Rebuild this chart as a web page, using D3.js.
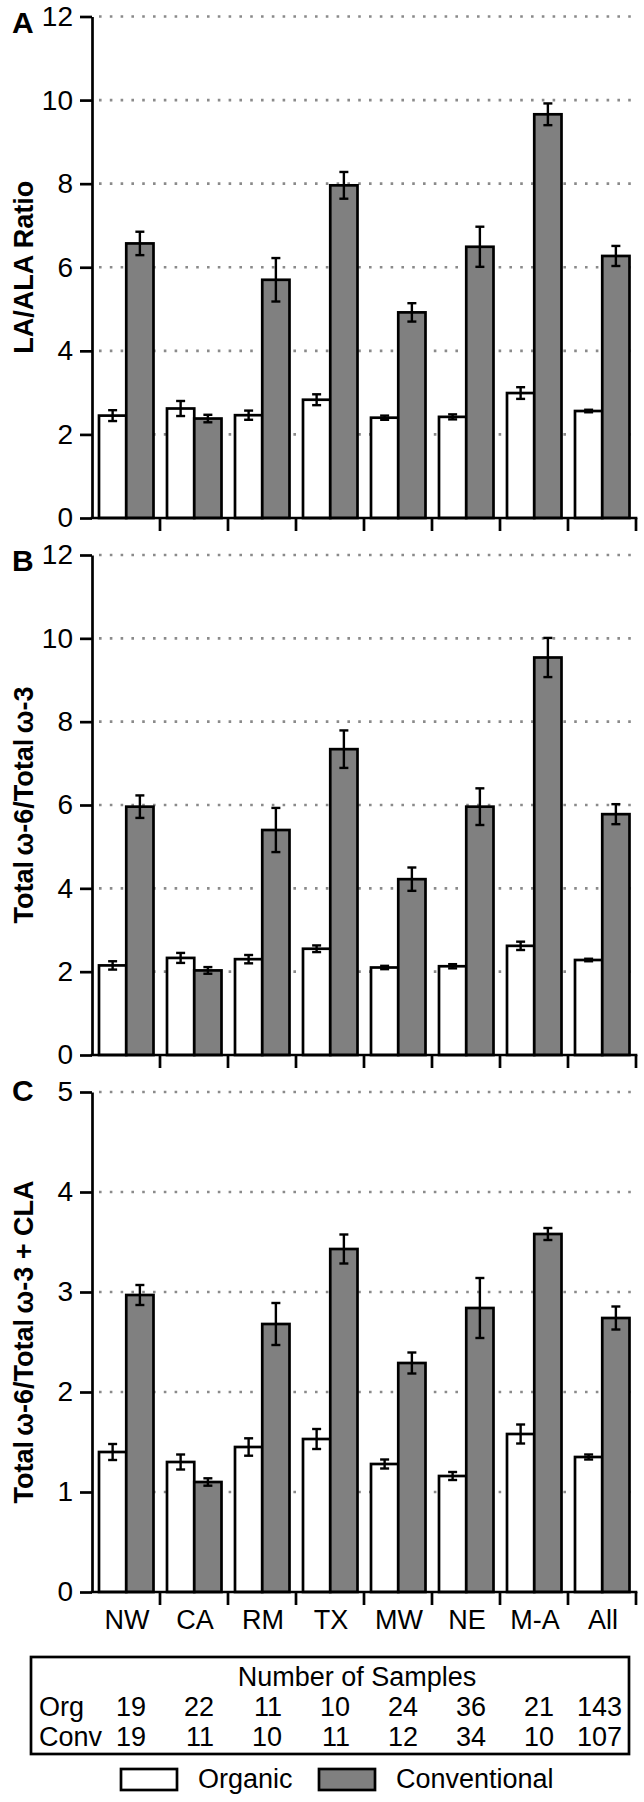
<!DOCTYPE html>
<html>
<head>
<meta charset="utf-8">
<script src="https://cdn.jsdelivr.net/npm/d3@7"></script>
<style>
  html, body { margin: 0; padding: 0; background: #fff; }
  svg { display: block; }
  text { font-family: "Liberation Sans", Arial, Helvetica, sans-serif; fill: #000; }
</style>
</head>
<body>
<svg id="chart" width="644" height="1802"></svg>
<script>
// ---------------- DATA ----------------
const categories = ["NW", "CA", "RM", "TX", "MW", "NE", "M-A", "All"];
const seriesNames = ["Organic", "Conventional"];

// Panel A: LA/ALA Ratio
const laAlaOrganic      = [2.45, 2.62, 2.46, 2.83, 2.40, 2.42, 2.99, 2.56];
const laAlaOrganicErr   = [0.13, 0.18, 0.11, 0.13, 0.05, 0.06, 0.14, 0.03];
const laAlaConv         = [6.57, 2.38, 5.70, 7.96, 4.92, 6.49, 9.66, 6.27];
const laAlaConvErr      = [0.28, 0.09, 0.52, 0.32, 0.22, 0.48, 0.26, 0.24];

// Panel B: Total w-6 / Total w-3
const w6w3Organic       = [2.15, 2.33, 2.30, 2.55, 2.10, 2.13, 2.62, 2.28];
const w6w3OrganicErr    = [0.10, 0.12, 0.10, 0.08, 0.04, 0.05, 0.10, 0.03];
const w6w3Conv          = [5.96, 2.03, 5.40, 7.34, 4.22, 5.96, 9.54, 5.78];
const w6w3ConvErr       = [0.27, 0.08, 0.53, 0.45, 0.28, 0.44, 0.47, 0.24];

// Panel C: Total w-6 / (Total w-3 + CLA)
const w6w3claOrganic    = [1.40, 1.30, 1.45, 1.53, 1.28, 1.16, 1.58, 1.35];
const w6w3claOrganicErr = [0.08, 0.075, 0.087, 0.10, 0.045, 0.04, 0.095, 0.025];
const w6w3claConv       = [2.97, 1.10, 2.68, 3.43, 2.29, 2.84, 3.58, 2.74];
const w6w3claConvErr    = [0.10, 0.037, 0.21, 0.145, 0.105, 0.30, 0.06, 0.115];

// Tick labels
const ticksAB = [0, 2, 4, 6, 8, 10, 12];
const ticksC  = [0, 1, 2, 3, 4, 5];

// Number of samples
const samplesOrg  = [19, 22, 11, 10, 24, 36, 21, 143];
const samplesConv = [19, 11, 10, 11, 12, 34, 10, 107];

// ---------------- LAYOUT ----------------
const FONT = 27;
const TICKFONT = 28;
const svg = d3.select("#chart");

const x = d3.scaleBand().domain(categories).range([92, 636]).paddingInner(0).paddingOuter(0);
const x1 = d3.scaleBand().domain(seriesNames).range([7, 61.5]).paddingInner(0);
const fill = d3.scaleOrdinal().domain(seriesNames).range(["#ffffff", "#808080"]);

const panels = [
  { letter: "A", title: "LA/ALA Ratio", domain: [0, 12], range: [518, 16.5], ticks: ticksAB,
    org: laAlaOrganic, orgErr: laAlaOrganicErr, conv: laAlaConv, convErr: laAlaConvErr,
    letterY: 33 },
  { letter: "B", title: "Total\u2009\u03c9-6/Total\u2009\u03c9-3", domain: [0, 12], range: [1055, 555], ticks: ticksAB,
    org: w6w3Organic, orgErr: w6w3OrganicErr, conv: w6w3Conv, convErr: w6w3ConvErr,
    letterY: 571 },
  { letter: "C", title: "Total\u2009\u03c9-6/Total\u2009\u03c9-3 + CLA", domain: [0, 5], range: [1592, 1092], ticks: ticksC,
    org: w6w3claOrganic, orgErr: w6w3claOrganicErr, conv: w6w3claConv, convErr: w6w3claConvErr,
    letterY: 1101 }
];

const SW = 2.7;

panels.forEach(p => {
  const y = d3.scaleLinear().domain(p.domain).range(p.range);
  const g = svg.append("g");

  // gridlines (dotted)
  g.append("g").selectAll("line")
    .data(p.ticks.filter(t => t > 0))
    .join("line")
    .attr("x1", x.range()[0] + 7).attr("x2", x.range()[1] - 4)
    .attr("y1", d => y(d)).attr("y2", d => y(d))
    .attr("stroke", "#8a8a8a").attr("stroke-width", 2.6)
    .attr("stroke-dasharray", "2.6 8.2");

  // bars
  const rows = categories.map((c, i) => ({
    cat: c,
    vals: [
      { s: "Organic", v: p.org[i], e: p.orgErr[i] },
      { s: "Conventional", v: p.conv[i], e: p.convErr[i] }
    ]
  }));

  const cg = g.append("g").selectAll("g")
    .data(rows).join("g")
    .attr("transform", d => `translate(${x(d.cat)},0)`);

  cg.selectAll("rect")
    .data(d => d.vals).join("rect")
    .attr("x", d => x1(d.s))
    .attr("width", x1.bandwidth())
    .attr("y", d => y(d.v))
    .attr("height", d => y(0) - y(d.v))
    .attr("fill", d => fill(d.s))
    .attr("stroke", "#000")
    .attr("stroke-width", SW);

  // error bars
  const eb = cg.selectAll("g.eb")
    .data(d => d.vals).join("g").attr("class", "eb");
  const cx = d => x1(d.s) + x1.bandwidth() / 2;
  eb.append("line")
    .attr("x1", cx).attr("x2", cx)
    .attr("y1", d => y(d.v + d.e)).attr("y2", d => y(d.v - d.e))
    .attr("stroke", "#000").attr("stroke-width", 2.4);
  eb.append("line")
    .attr("x1", d => cx(d) - 4.5).attr("x2", d => cx(d) + 4.5)
    .attr("y1", d => y(d.v + d.e)).attr("y2", d => y(d.v + d.e))
    .attr("stroke", "#000").attr("stroke-width", 2.4);
  eb.append("line")
    .attr("x1", d => cx(d) - 4.5).attr("x2", d => cx(d) + 4.5)
    .attr("y1", d => y(d.v - d.e)).attr("y2", d => y(d.v - d.e))
    .attr("stroke", "#000").attr("stroke-width", 2.4);

  // y axis
  const ya = g.append("g")
    .attr("transform", `translate(${x.range()[0]},0)`)
    .call(d3.axisLeft(y).tickValues(p.ticks).tickFormat(d3.format("d"))
      .tickSize(12).tickSizeOuter(0).tickPadding(7));
  ya.attr("font-size", null).attr("font-family", null);
  ya.select(".domain").attr("stroke", "#000").attr("stroke-width", SW);
  ya.selectAll(".tick line").attr("stroke", "#000").attr("stroke-width", SW);
  ya.selectAll(".tick text")
    .style("font-family", '"Liberation Sans", Arial, sans-serif')
    .style("font-size", TICKFONT + "px").attr("fill", "#000");

  // x axis line
  g.append("line")
    .attr("x1", x.range()[0]).attr("x2", x.range()[1])
    .attr("y1", y(0)).attr("y2", y(0))
    .attr("stroke", "#000").attr("stroke-width", SW).attr("stroke-linecap", "square");
  // category separator ticks
  g.append("g").selectAll("line")
    .data(categories).join("line")
    .attr("x1", d => x(d) + x.bandwidth()).attr("x2", d => x(d) + x.bandwidth())
    .attr("y1", y(0)).attr("y2", y(0) + 13)
    .attr("stroke", "#000").attr("stroke-width", SW);

  // panel letter
  g.append("text")
    .attr("x", 12).attr("y", p.letterY)
    .style("font-size", "30px").style("font-weight", "bold")
    .text(p.letter);

  // y title
  const midY = (p.range[0] + p.range[1]) / 2;
  g.append("text")
    .attr("transform", `translate(33,${midY}) rotate(-90)`)
    .attr("text-anchor", "middle")
    .style("font-size", "27px").style("font-weight", "bold")
    .text(p.title);
});

// category labels (below panel C)
svg.append("g").selectAll("text")
  .data(categories).join("text")
  .attr("x", d => x(d) + x.bandwidth() / 2 + 1)
  .attr("y", 1629)
  .attr("text-anchor", "middle")
  .style("font-size", FONT + "px")
  .text(d => d);

// sample-count table
svg.append("rect")
  .attr("x", 31).attr("y", 1657).attr("width", 598).attr("height", 97)
  .attr("fill", "none").attr("stroke", "#000").attr("stroke-width", SW);
svg.append("text")
  .attr("x", 357).attr("y", 1686).attr("text-anchor", "middle")
  .style("font-size", FONT + "px").text("Number of Samples");
const tableRows = [
  { label: "Org", vals: samplesOrg, y: 1716 },
  { label: "Conv", vals: samplesConv, y: 1746 }
];
tableRows.forEach(r => {
  svg.append("text").attr("x", 39).attr("y", r.y)
    .style("font-size", FONT + "px").text(r.label);
  svg.append("g").selectAll("text")
    .data(categories).join("text")
    .attr("x", d => x(d) + x.bandwidth() / 2 + 20)
    .attr("y", r.y)
    .attr("text-anchor", "end")
    .style("font-size", FONT + "px")
    .text((d, i) => r.vals[i]);
});

// legend
const legendItems = [
  { s: "Organic", rx: 121, tx: 198 },
  { s: "Conventional", rx: 319, tx: 396 }
];
const lg = svg.append("g").selectAll("g").data(legendItems).join("g");
lg.append("rect")
  .attr("x", d => d.rx).attr("y", 1769).attr("width", 56).attr("height", 21)
  .attr("fill", d => fill(d.s)).attr("stroke", "#000").attr("stroke-width", SW);
lg.append("text")
  .attr("x", d => d.tx).attr("y", 1788)
  .style("font-size", FONT + "px")
  .text(d => d.s);
</script>
</body>
</html>
